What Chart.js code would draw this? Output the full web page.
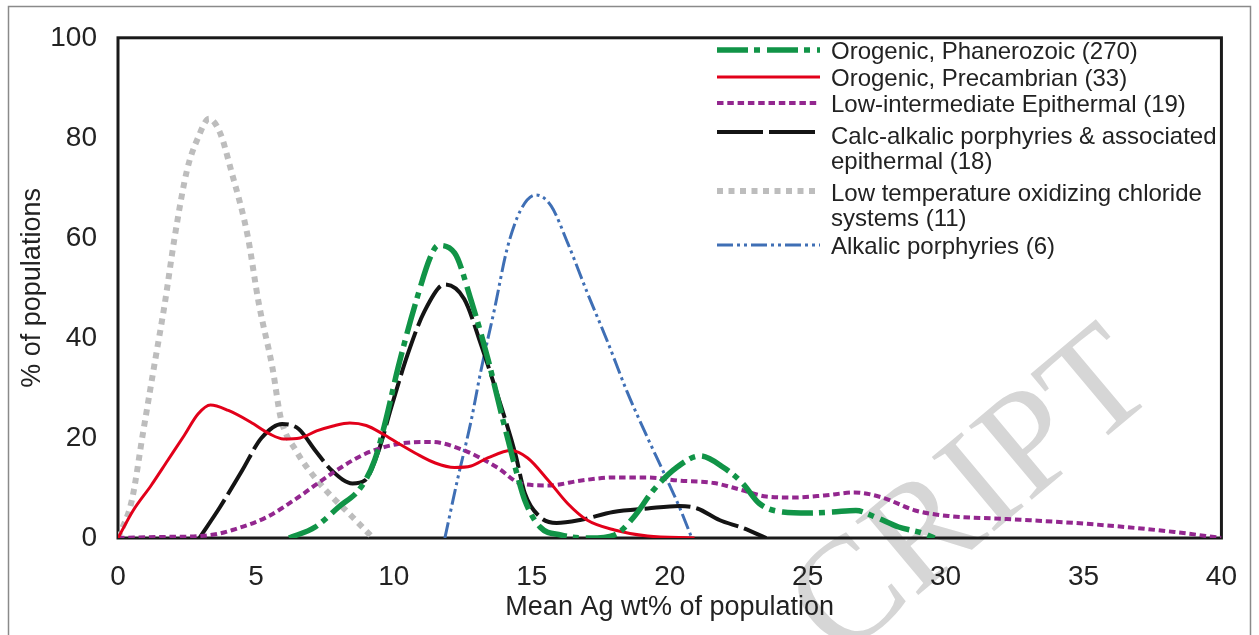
<!DOCTYPE html>
<html>
<head>
<meta charset="utf-8">
<script src="https://cdn.jsdelivr.net/npm/chart.js@4.4.1/dist/chart.umd.min.js"></script>
<style>
  html, body { margin: 0; padding: 0; background: #ffffff; }
  canvas { display: block; }
</style>
</head>
<body>
<canvas id="chart" width="1259" height="635"></canvas>
<script>
// ---------- DATA ----------
const xTicks = [0, 5, 10, 15, 20, 25, 30, 35, 40];
const yTicks = [0, 20, 40, 60, 80, 100];

const seriesNames = [
  'Orogenic, Phanerozoic (270)',
  'Orogenic, Precambrian (33)',
  'Low-intermediate Epithermal (19)',
  'Calc-alkalic porphyries & associated epithermal (18)',
  'Low temperature oxidizing chloride systems (11)',
  'Alkalic porphyries (6)'
];
const legendLines = [
  ['Orogenic, Phanerozoic (270)'],
  ['Orogenic, Precambrian (33)'],
  ['Low-intermediate Epithermal (19)'],
  ['Calc-alkalic porphyries & associated', 'epithermal (18)'],
  ['Low temperature oxidizing chloride', 'systems (11)'],
  ['Alkalic porphyries (6)']
];

const phanX = [6.2, 7.15, 8.0, 8.8, 9.3, 9.7, 10.15, 10.8, 11.35, 11.6, 12.2, 12.8, 13.4, 13.9, 14.4, 14.75, 15.3, 16.05, 17.1, 18.0, 18.7, 19.4, 20.25, 21.1, 21.95, 22.65, 23.25, 24.1, 25.05, 25.9, 26.75, 27.45, 28.3, 29.15, 29.6];
const phanY = [0, 2.2, 6.2, 10.1, 15.5, 23.4, 34, 47.2, 56.5, 58.5, 57, 47.5, 36, 24.8, 14.1, 7.5, 2.2, 0.6, 0, 0.6, 4.2, 9.5, 14.1, 16.4, 14.1, 10.9, 6.9, 5.2, 5.0, 5.2, 5.5, 4.2, 2.2, 1.0, 0];

const precX = [0, 0.55, 1.2, 1.8, 2.4, 2.9, 3.35, 4.0, 4.8, 5.5, 6.0, 6.6, 7.2, 7.8, 8.4, 9.0, 9.6, 10.2, 10.8, 11.5, 12.2, 12.8, 13.4, 14.25, 14.85, 15.6, 16.3, 17.0, 18.0, 19.2, 20.9];
const precY = [0, 5.5, 10.5, 15.5, 20.5, 24.8, 26.6, 25.5, 23.2, 20.8, 19.8, 20, 21.4, 22.4, 23, 22.5, 20.8, 18.8, 16.9, 15, 14.1, 14.4, 16, 17.5, 16, 11.5, 6.9, 3.6, 1.6, 0.4, 0];

const epiX = [0, 1.5, 3.0, 3.6, 4.15, 5.4, 6.55, 7.75, 8.95, 10.15, 11.35, 12.55, 13.75, 14.6, 15.6, 16.8, 18.0, 19.2, 20.3, 21.6, 22.6, 23.5, 24.5, 25.6, 26.7, 27.7, 28.9, 30.1, 32.2, 34.7, 36.5, 38.3, 40];
const epiY = [0, 0.2, 0.4, 0.8, 1.6, 4.2, 8.2, 12.9, 16.8, 18.8, 19.2, 17.5, 14.1, 10.9, 10.5, 11.5, 12.1, 12.1, 11.5, 11.0, 9.6, 8.3, 8.1, 8.5, 9.1, 8.1, 5.5, 4.4, 3.8, 3.0, 2.2, 1.2, 0];

const calcX = [2.95, 3.7, 4.5, 5.2, 5.95, 6.55, 7.15, 7.75, 8.5, 8.95, 9.45, 9.9, 10.5, 11.1, 11.85, 12.55, 13.15, 13.75, 14.4, 14.75, 15.3, 15.9, 16.75, 17.95, 19.2, 20.35, 21.0, 21.8, 22.65, 23.5];
const calcY = [0, 6.2, 13.5, 20, 22.8, 21.8, 17.5, 13.5, 10.9, 11.5, 17.5, 26, 36.7, 45.2, 50.7, 47.8, 38.8, 28.7, 16.9, 8.9, 4.2, 3.0, 3.6, 5.2, 5.9, 6.4, 5.9, 3.6, 2.0, 0];

const lowtX = [0, 0.5, 0.9, 1.3, 1.7, 2.05, 2.5, 2.9, 3.3, 3.7, 4.1, 4.7, 5.1, 5.6, 5.9, 6.45, 7.3, 8.5, 9.25];
const lowtY = [0, 7.5, 20.8, 34, 47, 60, 73.5, 80, 83.8, 81, 73.5, 60.4, 47, 34, 24, 17.5, 11, 4.2, 0];

const alkX = [11.85, 12.3, 12.8, 13.15, 13.65, 14.1, 14.6, 15.15, 15.7, 16.3, 17.0, 17.75, 18.45, 19.2, 19.8, 20.35, 20.8];
const alkY = [0, 11.5, 23.4, 33.3, 45.8, 57.7, 65.6, 68.6, 66.4, 59, 49.2, 39.2, 29.3, 20, 12.9, 6.2, 0];

// ---------- helpers ----------
const zip = (xs, ys) => xs.map((x, i) => ({ x: x, y: ys[i] }));

const styles = [
  { color: '#119447', width: 5.5, dash: [31, 6, 6, 7] },
  { color: '#e2001a', width: 3,   dash: [] },
  { color: '#93278f', width: 4,   dash: [6.5, 3.8] },
  { color: '#141414', width: 4,   dash: [46, 6] },
  { color: '#bdbdbd', width: 6,   dash: [6, 5.5] },
  { color: '#3f6fb5', width: 3,   dash: [16, 4, 3, 4, 3, 4] }
];

const seriesData = [
  zip(phanX, phanY), zip(precX, precY), zip(epiX, epiY),
  zip(calcX, calcY), zip(lowtX, lowtY), zip(alkX, alkY)
];

const datasets = seriesData.map((d, i) => ({
  label: seriesNames[i],
  data: d,
  borderColor: styles[i].color,
  backgroundColor: styles[i].color,
  borderWidth: styles[i].width,
  borderDash: styles[i].dash,
  borderCapStyle: 'butt',
  pointRadius: 0,
  pointHoverRadius: 0,
  fill: false,
  cubicInterpolationMode: 'monotone'
}));

const FONT = 'Liberation Sans, Arial, Helvetica, sans-serif';
const TEXT = '#222222';

// ---------- plugins ----------
const watermarkPlugin = {
  id: 'watermark',
  beforeDraw(chart) {
    const ctx = chart.ctx;
    ctx.save();
    ctx.translate(1160, 392);
    ctx.rotate(-40 * Math.PI / 180);
    ctx.font = '148px "Liberation Serif", "Times New Roman", serif';
    ctx.fillStyle = '#d6d6d6';
    ctx.textAlign = 'right';
    ctx.textBaseline = 'alphabetic';
    ctx.fillText('CRIPT', 0, 0);
    ctx.restore();
  }
};

const framePlugin = {
  id: 'frame',
  beforeDatasetsDraw(chart) {
    const { ctx, chartArea: a } = chart;
    ctx.save();
    ctx.strokeStyle = '#1a1a1a';
    ctx.lineWidth = 3;
    ctx.strokeRect(a.left, a.top, a.right - a.left, a.bottom - a.top);
    ctx.restore();
  },
  afterDraw(chart) {
    const ctx = chart.ctx;
    ctx.save();
    ctx.strokeStyle = '#8a8a8a';
    ctx.lineWidth = 1.5;
    ctx.beginPath();
    ctx.moveTo(8.5, 640);
    ctx.lineTo(8.5, 6.5);
    ctx.lineTo(1250.5, 6.5);
    ctx.lineTo(1250.5, 640);
    ctx.stroke();
    ctx.restore();
  }
};

const legendPlugin = {
  id: 'customLegend',
  afterDatasetsDraw(chart) {
    const ctx = chart.ctx;
    const x0 = 717, x1 = 820, tx = 831;
    const lineYs = [50, 77, 103, 132, 191, 245];
    const textYs = [52, 79, 105, 137, 194, 247];
    const lineGap = 25;
    ctx.save();
    chart.data.datasets.forEach((ds, i) => {
      ctx.beginPath();
      ctx.setLineDash(ds.borderDash || []);
      ctx.lineCap = 'butt';
      ctx.strokeStyle = ds.borderColor;
      ctx.lineWidth = ds.borderWidth;
      ctx.moveTo(x0, lineYs[i]);
      ctx.lineTo(x1, lineYs[i]);
      ctx.stroke();
      ctx.setLineDash([]);
      ctx.fillStyle = TEXT;
      ctx.font = '24px ' + FONT;
      ctx.textAlign = 'left';
      ctx.textBaseline = 'middle';
      legendLines[i].forEach((t, k) => {
        ctx.fillText(t, tx, textYs[i] + k * lineGap);
      });
    });
    ctx.restore();
  }
};

// ---------- chart ----------
new Chart(document.getElementById('chart'), {
  type: 'line',
  data: { datasets: datasets },
  plugins: [watermarkPlugin, framePlugin, legendPlugin],
  options: {
    responsive: false,
    animation: false,
    events: [],
    layout: { padding: { top: 33, right: 31, left: 0, bottom: 0 } },
    plugins: {
      legend: { display: false },
      tooltip: { enabled: false },
      title: { display: false }
    },
    scales: {
      x: {
        type: 'linear',
        min: 0,
        max: 40,
        afterBuildTicks: (s) => { s.ticks = xTicks.map(v => ({ value: v })); },
        afterFit: (s) => { s.height = 97; },
        grid: { display: false, drawTicks: false },
        border: { display: false },
        ticks: {
          padding: 22,
          color: TEXT,
          font: { family: FONT, size: 28 },
          maxRotation: 0,
          autoSkip: false
        },
        title: {
          display: true,
          text: 'Mean Ag wt% of population',
          color: TEXT,
          font: { family: FONT, size: 27 },
          padding: { top: 0, bottom: 11 }
        }
      },
      y: {
        type: 'linear',
        min: 0,
        max: 100,
        afterBuildTicks: (s) => { s.ticks = yTicks.map(v => ({ value: v })); },
        afterFit: (s) => { s.width = 118; },
        grid: { display: false, drawTicks: false },
        border: { display: false },
        ticks: {
          padding: 21,
          color: TEXT,
          font: { family: FONT, size: 28 }
        },
        title: {
          display: true,
          text: '% of populations',
          color: TEXT,
          font: { family: FONT, size: 27 },
          padding: { top: 16, bottom: 0 }
        }
      }
    }
  }
});
</script>
</body>
</html>
